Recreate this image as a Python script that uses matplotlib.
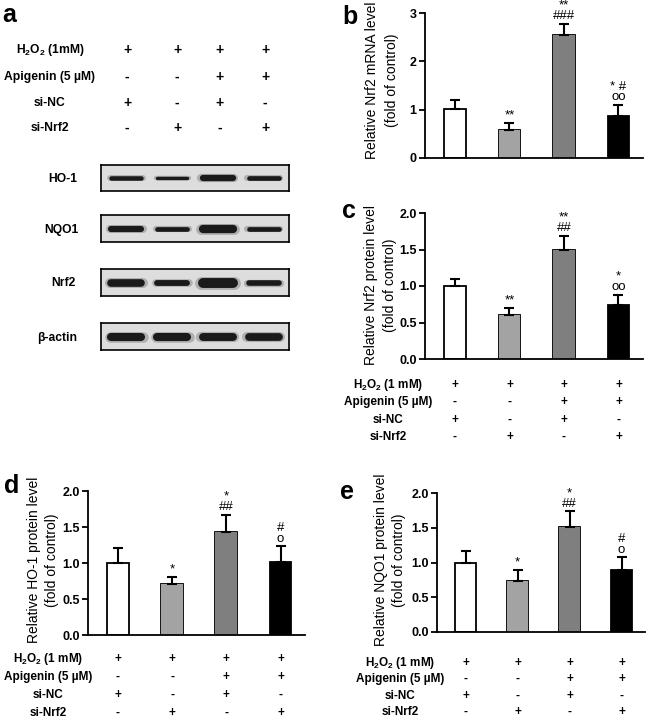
import numpy as np
import matplotlib
matplotlib.use("Agg")
import matplotlib.pyplot as plt
import matplotlib.transforms as mtransforms

plt.rcParams["font.family"] = ["Liberation Sans", "DejaVu Sans"]
plt.rcParams["mathtext.fontset"] = "custom"
plt.rcParams["mathtext.rm"] = "Liberation Sans:bold"
plt.rcParams["mathtext.bf"] = "Liberation Sans:bold"

# ---------------------------------------------------------------------------
# data
# ---------------------------------------------------------------------------
groups = [0, 1, 2, 3]
h2o2 = ["+", "+", "+", "+"]
apigenin = ["-", "-", "+", "+"]
si_nc = ["+", "-", "+", "-"]
si_nrf2 = ["-", "+", "-", "+"]

# blot band intensities (relative thickness)
blot_names = ["HO-1", "NQO1", "Nrf2", "β-actin"]
band_ho1 = [0.50, 0.38, 0.70, 0.52]
band_nqo1 = [0.68, 0.52, 0.92, 0.52]
band_nrf2 = [0.85, 0.65, 1.10, 0.62]
band_actin = [0.90, 0.90, 0.88, 0.86]

# bar panels
b_mean = [1.01, 0.57, 2.54, 0.87]
b_err = [0.20, 0.16, 0.24, 0.23]
b_sig = ["", "**", "**\n###", "* #\noo"]

c_mean = [1.00, 0.60, 1.49, 0.735]
c_err = [0.10, 0.10, 0.20, 0.145]
c_sig = ["", "**", "**\n##", "*\noo"]

d_mean = [1.00, 0.71, 1.435, 1.02]
d_err = [0.21, 0.10, 0.235, 0.21]
d_sig = ["", "*", "*\n##", "#\no"]

e_mean = [0.99, 0.73, 1.51, 0.89]
e_err = [0.175, 0.16, 0.23, 0.19]
e_sig = ["", "*", "*\n##", "#\no"]

bar_colors = ["white", "#a3a3a3", "#7f7f7f", "black"]

# ---------------------------------------------------------------------------
# layout helpers (pixel coords of a 650x719 figure)
# ---------------------------------------------------------------------------
W, H = 650, 719
fig = plt.figure(figsize=(W / 100, H / 100), dpi=100)


def ax_px(x0, y0, x1, y1):
    return fig.add_axes([x0 / W, 1 - y1 / H, (x1 - x0) / W, (y1 - y0) / H])


def ftext(x, y, s, **kw):
    fig.text(x / W, 1 - y / H, s, **kw)


def treat_table(ax, rows_y, label_x, labels, size=8.5):
    trans = mtransforms.blended_transform_factory(ax.transData, fig.transFigure)
    rows = [h2o2, apigenin, si_nc, si_nrf2]
    for y, lab, row in zip(rows_y, labels, rows):
        ftext(label_x, y, lab, ha="center", va="center", fontsize=size,
              fontweight="bold")
        for g, sym in zip(groups, row):
            ax.text(g, 1 - y / H, sym, transform=trans, ha="center",
                    va="center", fontsize=size, fontweight="bold")


def ylabel2(x1, x2, yc, line1):
    ftext(x1, yc, line1, rotation=90, ha="center", va="center", fontsize=10)
    ftext(x2, yc, "(fold of control)", rotation=90, ha="center", va="center",
          fontsize=10)


def bar_panel(ax, mean, err, sig, ymax, ticks, ticklabels):
    ax.bar(groups, mean, width=0.4, color=bar_colors, edgecolor="black",
           linewidth=1.3, zorder=2)
    for g, c, m in zip(groups, bar_colors, mean):
        if c != "white":
            ax.bar(g, m, width=0.4, color=c, linewidth=0, zorder=2)
    ax.errorbar(groups, mean, yerr=[np.zeros(4), err], fmt="none",
                ecolor="black", elinewidth=1.5, capsize=3.8, capthick=1.5,
                zorder=3)
    for g, m, e, s in zip(groups, mean, err, sig):
        if s:
            ax.annotate(s, (g, m + e), xytext=(0, 1.0), textcoords="offset points",
                        ha="center", va="bottom", fontsize=9.5,
                        linespacing=0.85, annotation_clip=False)
    ax.set_xlim(-0.55, 3.45)
    ax.set_ylim(0, ymax)
    ax.set_yticks(ticks)
    ax.set_yticklabels(ticklabels, fontsize=9, fontweight="bold")
    ax.set_xticks([])
    for sp in ["top", "right"]:
        ax.spines[sp].set_visible(False)
    for sp in ["left", "bottom"]:
        ax.spines[sp].set_linewidth(1.3)
    ax.tick_params(axis="y", direction="out", length=4, width=1.3, pad=2)
    ax.patch.set_alpha(0)


# ---------------------------------------------------------------------------
# panel a: treatment table + blots
# ---------------------------------------------------------------------------
ftext(9, 15, "a", ha="center", va="center", fontsize=18, fontweight="bold")
lane_x = [127, 177, 220, 265]
a_rows_y = [50, 77, 103, 128]
a_labels = [r"H$_\mathbf{2}$O$_\mathbf{2}$ (1mM)", "Apigenin (5 µM)", "si-NC", "si-Nrf2"]
for y, lab, row in zip(a_rows_y, a_labels, [h2o2, apigenin, si_nc, si_nrf2]):
    ftext(50, y, lab, ha="center", va="center", fontsize=8.7, fontweight="bold")
    for x, sym in zip(lane_x, row):
        ftext(x, y, sym, ha="center", va="center", fontsize=10, fontweight="bold")

blot_boxes = [(165, 191), (215, 242), (269, 296), (323, 350)]
blot_label_x = [63, 61, 63, 57]
bands = [band_ho1, band_nqo1, band_nrf2, band_actin]
for (y0, y1), name, lx, band in zip(blot_boxes, blot_names, blot_label_x, bands):
    bax = ax_px(101, y0, 289, y1)
    bax.set_facecolor("#dddddd")
    bax.set_xlim(-0.55, 3.55)
    bax.set_ylim(-1, 1)
    bax.set_xticks([])
    bax.set_yticks([])
    for sp in bax.spines.values():
        sp.set_linewidth(1.2)
    for g, v in zip(groups, band):
        lw = v * 6.5
        bax.plot([g - 0.36, g + 0.36], [0, 0], color="#777777", lw=lw * 1.3,
                 solid_capstyle="round", alpha=0.45)
        bax.plot([g - 0.33, g + 0.33], [0, 0], color="#1a1a1a", lw=lw,
                 solid_capstyle="round")
    ftext(lx, (y0 + y1) / 2 + 1, name, ha="center", va="center", fontsize=8.7,
          fontweight="bold")

# ---------------------------------------------------------------------------
# panel b
# ---------------------------------------------------------------------------
ftext(350, 17, "b", ha="center", va="center", fontsize=18, fontweight="bold")
ax_b = ax_px(425, 13, 643, 158)
bar_panel(ax_b, b_mean, b_err, b_sig, 3, [0, 1, 2, 3], ["0", "1", "2", "3"])
ylabel2(372, 392, 80, "Relative Nrf2 mRNA level")

prot_ticks = [0, 0.5, 1.0, 1.5, 2.0]
prot_labels = ["0.0", "0.5", "1.0", "1.5", "2.0"]
tab_labels = [r"H$_\mathbf{2}$O$_\mathbf{2}$ (1 mM)", "Apigenin (5 µM)", "si-NC", "si-Nrf2"]

# ---------------------------------------------------------------------------
# panel c
# ---------------------------------------------------------------------------
ftext(349, 211, "c", ha="center", va="center", fontsize=18, fontweight="bold")
ax_c = ax_px(425, 213, 643, 359)
bar_panel(ax_c, c_mean, c_err, c_sig, 2.0, prot_ticks, prot_labels)
ylabel2(371, 390, 285, "Relative Nrf2 protein level")
treat_table(ax_c, [385, 402, 420, 437], 388, tab_labels)

# ---------------------------------------------------------------------------
# panel d
# ---------------------------------------------------------------------------
ftext(12, 486, "d", ha="center", va="center", fontsize=18, fontweight="bold")
ax_d = ax_px(88, 491, 305, 635)
bar_panel(ax_d, d_mean, d_err, d_sig, 2.0, prot_ticks, prot_labels)
ylabel2(34, 52, 560, "Relative HO-1 protein level")
treat_table(ax_d, [659, 677, 695, 713], 48, tab_labels)

# ---------------------------------------------------------------------------
# panel e
# ---------------------------------------------------------------------------
ftext(347, 492, "e", ha="center", va="center", fontsize=18, fontweight="bold")
ax_e = ax_px(437, 493, 645, 632)
bar_panel(ax_e, e_mean, e_err, e_sig, 2.0, prot_ticks, prot_labels)
ylabel2(381, 399, 560, "Relative NQO1 protein level")
treat_table(ax_e, [663, 679, 696, 712], 400, tab_labels)

fig.savefig("out.png", dpi=100)
